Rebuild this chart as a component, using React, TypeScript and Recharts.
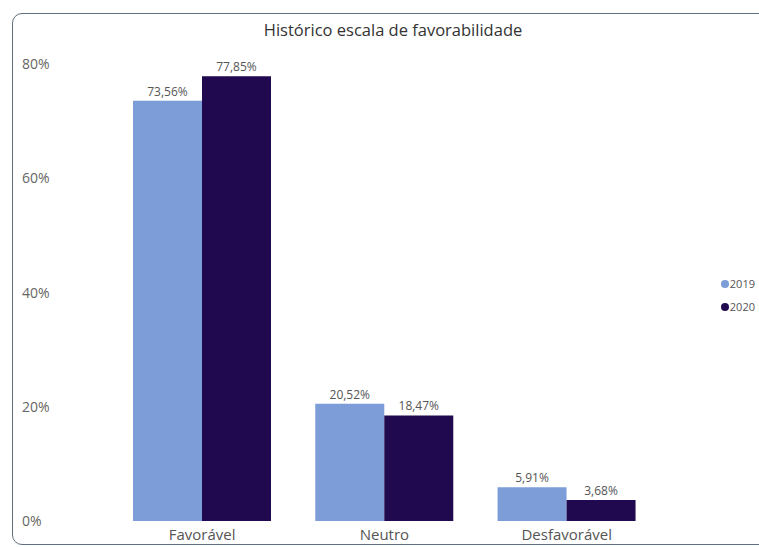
import { Bar, BarChart, XAxis, YAxis, LabelList, Legend } from "recharts";

const categories = ["Favorável", "Neutro", "Desfavorável"];
const values2019 = [73.56, 20.52, 5.91];
const values2020 = [77.85, 18.47, 3.68];
const yTicks = [0, 20, 40, 60, 80];

const COLOR_2019 = "#7d9dd8";
const COLOR_2020 = "#21094f";
const FONT = "'Open Sans', 'Noto Sans', sans-serif";

const data = categories.map((name, i) => ({ name, y2019: values2019[i], y2020: values2020[i] }));

const fmtPct = (v: number | string | null | undefined) =>
  `${Number(v ?? 0).toFixed(2).replace(".", ",")}%`;

function YTick({ y, payload }: any) {
  return (
    <text x={22} y={y} dy={5} fill="#666" fontSize={14} fontFamily={FONT} textAnchor="start">
      {`${payload.value}%`}
    </text>
  );
}

function LegendBox({ payload }: any) {
  return (
    <div style={{ fontFamily: FONT, fontSize: 11, color: "#555" }}>
      {(payload ?? []).map((p: any) => (
        <div key={p.value} style={{ display: "flex", alignItems: "center", height: 23 }}>
          <span style={{ width: 8, height: 8, borderRadius: 4, background: p.color, marginRight: 1, display: "inline-block" }} />
          {p.value}
        </div>
      ))}
    </div>
  );
}

export default function App() {
  return (
    <div style={{ position: "absolute", left: 0, top: 0, width: 759, height: 547, background: "#fff", overflow: "hidden" }}>
      <div
        style={{
          position: "absolute", left: 12, top: 13, width: 780, height: 532,
          border: "1.5px solid #5f6f7d", borderRadius: 10, boxSizing: "border-box",
        }}
      />
      <div
        style={{
          position: "absolute", left: 0, top: 18, width: 786, textAlign: "center",
          fontFamily: FONT, fontSize: 16.5, color: "#333",
        }}
      >
        Histórico escala de favorabilidade
      </div>
      <BarChart
        width={759}
        height={547}
        data={data}
        margin={{ top: 64, right: 67, bottom: 0, left: 11 }}
        barCategoryGap={22}
        barGap={0}
      >
        <XAxis
          dataKey="name"
          axisLine={false}
          tickLine={false}
          height={26}
          tickMargin={2}
          tick={{ fontSize: 15, fill: "#555", fontFamily: FONT }}
        />
        <YAxis
          domain={[0, 80]}
          ticks={yTicks}
          width={100}
          axisLine={false}
          tickLine={false}
          tick={<YTick />}
        />
        <Legend
          layout="vertical"
          align="right"
          verticalAlign="middle"
          content={<LegendBox />}
          wrapperStyle={{ right: 4, top: 272 }}
        />
        <Bar dataKey="y2019" name="2019" fill={COLOR_2019} isAnimationActive={false}>
          <LabelList dataKey="y2019" position="top" formatter={fmtPct} style={{ fill: "#555", fontSize: 12, fontFamily: FONT }} />
        </Bar>
        <Bar dataKey="y2020" name="2020" fill={COLOR_2020} isAnimationActive={false}>
          <LabelList dataKey="y2020" position="top" formatter={fmtPct} style={{ fill: "#555", fontSize: 12, fontFamily: FONT }} />
        </Bar>
      </BarChart>
    </div>
  );
}
